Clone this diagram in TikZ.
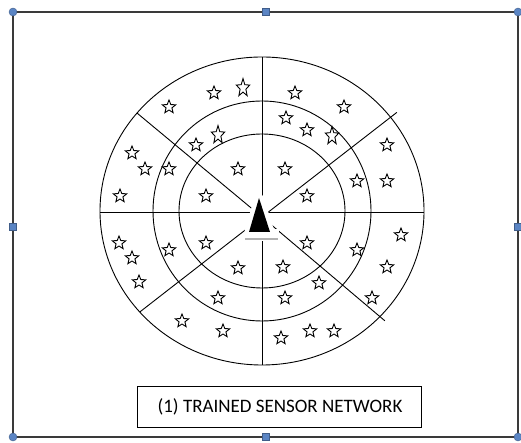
\documentclass[tikz,border=0pt]{standalone}
\usepackage{fontspec}
\usepackage{tikz}
\usetikzlibrary{shapes.geometric,calc}
\newfontfamily\labelfont{Carlito}
\definecolor{handleblue}{HTML}{5B85C4}
\definecolor{framegray}{HTML}{3A3A3A}

\tikzset{
  sensor/.style={star, star points=5, star point ratio=2.3, draw, line width=0.9pt,
    minimum size=14pt, inner sep=0pt},
  tallsensor/.style={sensor, yscale=1.35, transform shape},
  ring/.style={line width=0.9pt},
  handle/.style={fill=handleblue, draw=handleblue!70!black, line width=0.4pt}
}

\begin{document}
\begin{tikzpicture}[x=1pt, y=1pt]

  % picture area is 521 x 443, origin at lower left
  \useasboundingbox (0,0) rectangle (521,443);

  % --- Outer frame with selection handles ---
  \draw[framegray, line width=1.3pt] (13,6) rectangle (518,431);
  \filldraw[handle] (13,431) circle (4);
  \filldraw[handle] (518,431) circle (4);
  \filldraw[handle] (13,6) circle (4);
  \filldraw[handle] (518,6) circle (4);
  \filldraw[handle] (262.5,427.5) rectangle (269.5,434.5);
  \filldraw[handle] (262.5,2.5) rectangle (269.5,9.5);
  \filldraw[handle] (9.5,212.5) rectangle (16.5,219.5);
  \filldraw[handle] (514.5,212.5) rectangle (521.5,219.5);

  % --- Rings: centre at (262,232) ---
  \coordinate (c) at (262,232);
  \coordinate (o) at (262,226);
  \draw[ring] (c) ellipse [x radius=162, y radius=154];
  \draw[ring] (c) ellipse [x radius=109, y radius=110];
  \draw[ring] (c) ellipse [x radius=83, y radius=77];

  % --- Spokes ---
  \draw[ring] (100,231) -- (424,231);
  \draw[ring] (262,386) -- (262,78);
  \draw[ring] (o) -- ($(c)+(140.5:162 and 154)$);
  \draw[ring] (o) -- ($(c)+(37.5:170 and 162)$);
  \draw[ring] (o) -- ($(c)+(221:162 and 154)$);
  \draw[ring] (o) -- ($(c)+(-43:168 and 161)$);

  % --- Sink (triangle) at the centre ---
  \draw[white, line width=9pt, line join=round] (259,245) -- (249,211) -- (270,211) -- cycle;
  \fill[white] (246,202) rectangle (279,214);
  \fill[black] (259,245) -- (249,211) -- (270,211) -- cycle;
  \draw[gray!60, line width=2.5pt] (245,204) -- (278,204);

  % --- Sensors, upper left ---
  \node[sensor] (s1) at (169,336) {};
  \node[sensor] (s2) at (214,350) {};
  \node[tallsensor] (s3) at (243,355) {};
  \node[sensor] (s4) at (196,298) {};
  \node[tallsensor] (s5) at (218,308) {};
  \node[sensor] (s6) at (132,290) {};
  \node[sensor] (s7) at (145,274) {};
  \node[sensor] (s8) at (169,274) {};
  \node[sensor] (s9) at (238,274) {};
  \node[sensor] (s10) at (120,247) {};
  \node[sensor] (s11) at (206,247) {};

  % --- Sensors, upper right ---
  \node[sensor] (s12) at (295,350) {};
  \node[sensor] (s13) at (344,336) {};
  \node[sensor] (s14) at (286,325) {};
  \node[sensor] (s15) at (307,313) {};
  \node[tallsensor] (s16) at (332,307) {};
  \node[sensor] (s17) at (387,298) {};
  \node[sensor] (s18) at (285,274) {};
  \node[sensor] (s19) at (357,262) {};
  \node[sensor] (s20) at (387,262) {};
  \node[sensor] (s21) at (307,247) {};

  % --- Sensors, lower left ---
  \node[sensor] (s22) at (119,200) {};
  \node[sensor] (s23) at (132,185) {};
  \node[sensor] (s24) at (139,161) {};
  \node[sensor] (s25) at (169,193) {};
  \node[sensor] (s26) at (206,200) {};
  \node[sensor] (s27) at (238,175) {};
  \node[sensor] (s28) at (218,145) {};
  \node[sensor] (s29) at (182,122) {};
  \node[sensor] (s30) at (223,112) {};

  % --- Sensors, lower right ---
  \node[sensor] (s31) at (401,208) {};
  \node[sensor] (s32) at (357,193) {};
  \node[sensor] (s33) at (387,176) {};
  \node[sensor] (s34) at (307,200) {};
  \node[sensor] (s35) at (283,176) {};
  \node[sensor] (s36) at (319,160) {};
  \node[sensor] (s37) at (285,145) {};
  \node[sensor] (s38) at (372,145) {};
  \node[sensor] (s39) at (281,105) {};
  \node[sensor] (s40) at (310,112) {};
  \node[sensor] (s41) at (334,112) {};

  % --- Caption box ---
  \draw[line width=0.9pt] (137,16) rectangle (421,57);
  \node[inner sep=0pt] (caption) at (280,36.5)
    {\labelfont\fontsize{19}{22}\selectfont (1) TRAINED SENSOR NETWORK};

\end{tikzpicture}
\end{document}
